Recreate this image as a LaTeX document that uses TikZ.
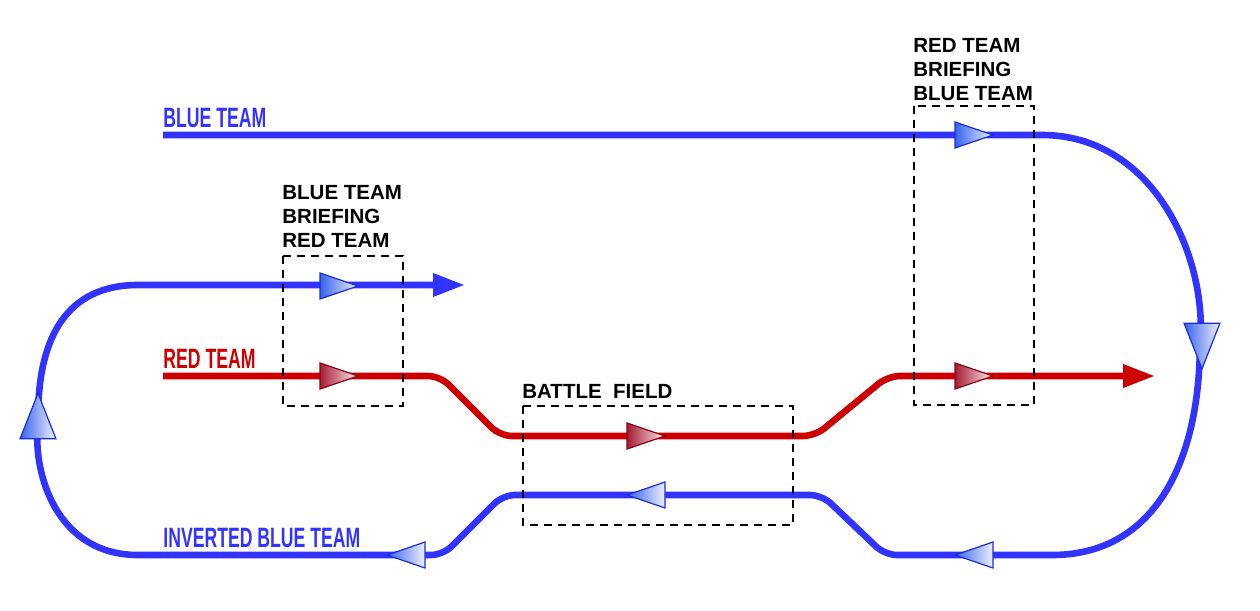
\documentclass[tikz,border=0pt]{standalone}
\usepackage{fontspec}
\setmainfont{Liberation Sans}
\usetikzlibrary{arrows.meta}

\definecolor{teamblue}{RGB}{51,51,255}
\definecolor{teamred}{RGB}{204,0,0}
\definecolor{triblue}{RGB}{25,45,215}
\definecolor{trired}{RGB}{140,0,20}
\definecolor{tribluedark}{RGB}{55,100,235}
\definecolor{triredark}{RGB}{165,30,55}

\begin{document}
\begin{tikzpicture}[x=0.5pt,y=-0.5pt]
	\tikzset{
		track/.style={line width=3.3pt, line join=round, rounded corners=6pt, -{Triangle[length=16pt,width=11pt]}},
		lbl/.style={inner sep=0pt, anchor=base west, font=\fontsize{14}{14}\selectfont\bfseries},
		brief/.style={inner sep=0pt, anchor=north west, align=left, font=\fontsize{10.25}{12}\selectfont\bfseries},
		briefbox/.style={draw, line width=1.4pt, dash pattern=on 4pt off 3pt},
		bluetri/.style={draw=triblue, line width=0.6pt, left color=tribluedark, right color=blue!6},
		redtri/.style={draw=trired, line width=0.6pt, left color=triredark, right color=red!8},
		tri/.pic={\shade[#1] (-19,-13) -- (19,0) -- (-19,13) -- cycle;}
	}
	\useasboundingbox (0,0) rectangle (1260,611);
	\draw[track, teamblue] (163,135) -- (1030,135)
		.. controls (1150,135) and (1205,250) .. (1200,350)
		.. controls (1195,470) and (1150,555) .. (1040,555)
		-- (885,555) -- (822,495) -- (503,495) -- (443,555) -- (150,555)
		.. controls (60,555) and (35,480) .. (38,420)
		.. controls (40,340) and (65,285) .. (150,285) -- (465,285);
	\draw[track, teamred] (163,376) -- (440,376) -- (500,436) -- (815,436) -- (888,376) -- (1155,376);
	\pic at (339,286) {tri=bluetri};
	\pic at (974,135) {tri=bluetri};
	\pic[rotate=180] at (646,495) {tri=bluetri};
	\pic[rotate=180] at (974,555) {tri=bluetri};
	\pic[rotate=180] at (406,555) {tri=bluetri};
	\pic[rotate=90, xscale=1.2, yscale=1.38] at (38,416) {tri=bluetri};
	\pic[rotate=-90, xscale=1.2, yscale=1.38] at (1202,346) {tri=bluetri};
	\pic at (339,376) {tri=redtri};
	\pic at (646,436) {tri=redtri};
	\pic at (974,376) {tri=redtri};
	\draw[briefbox] (283,256) rectangle (403,406);
	\draw[briefbox] (914,106) rectangle (1034,405);
	\draw[briefbox] (523,406) rectangle (793,525);
	\node[lbl, teamblue] (blueteam) at (163,127) {\scalebox{0.63}[1]{BLUE TEAM}};
	\node[lbl, teamred] (redteam) at (163,368) {\scalebox{0.63}[1]{RED TEAM}};
	\node[lbl, teamblue] (invteam) at (163,547) {\scalebox{0.63}[1]{INVERTED BLUE TEAM}};
	\node[brief] (bluebrief) at (282,185) {BLUE TEAM\\BRIEFING\\RED TEAM};
	\node[brief] (redbrief) at (913,38) {RED TEAM\\BRIEFING\\BLUE TEAM};
	\node[brief] (field) at (522,384) {BATTLE\ \ FIELD};
\end{tikzpicture}
\end{document}
